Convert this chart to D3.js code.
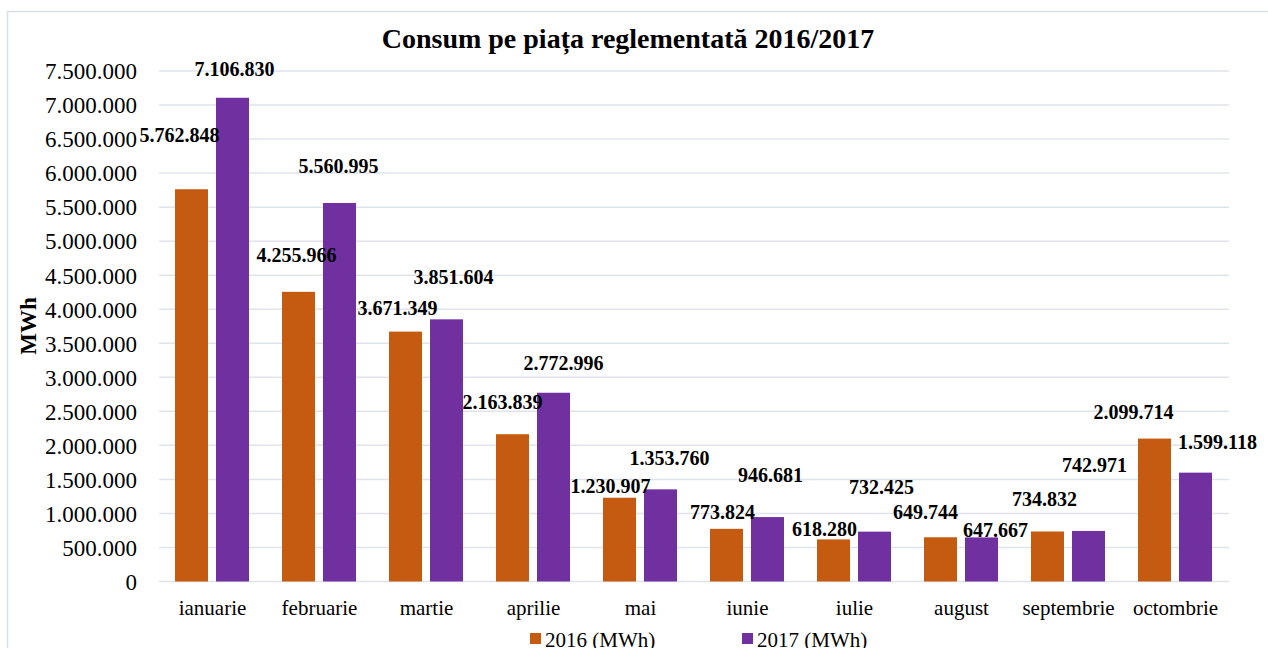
<!DOCTYPE html>
<html>
<head>
<meta charset="utf-8">
<script src="https://cdn.jsdelivr.net/npm/d3@7"></script>
<style>
    body { margin: 0; background: #fff; }
    svg text { font-family: "Liberation Serif", "Times New Roman", serif; fill: #000; }
</style>
</head>
<body>
<div id="chart"></div>
<script>
const months = ["ianuarie", "februarie", "martie", "aprilie", "mai", "iunie", "iulie", "august", "septembrie", "octombrie"];
const series = ["2016 (MWh)", "2017 (MWh)"];
const values2016 = [5762848, 4255966, 3671349, 2163839, 1230907, 773824, 618280, 649744, 734832, 2099714];
const values2017 = [7106830, 5560995, 3851604, 2772996, 1353760, 946681, 732425, 647667, 742971, 1599118];
const yTicks = d3.range(0, 7500001, 500000);

// label nudges (px) relative to top centre of each bar, as Excel left them
const nudge2016 = [[-12, -54], [-2, -37], [-8, -24], [-10, -32], [-9, -12], [-4, -17], [-9, -10], [-15, -25], [-3, -32], [-21, -27]];
const nudge2017 = [[2, -29], [-1, -37], [7, -42], [10, -30], [9, -31], [3, -42], [7, -45], [14, -7], [6, -66], [22, -31]];

const COLORS = ["#C55A11", "#7030A0"];
const GRID = "#dfe3ea";
const WIDTH = 1268, HEIGHT = 648;
const margin = {top: 71, right: 39, bottom: 66, left: 159};

const ro = d3.formatLocale({decimal: ",", thousands: ".", grouping: [3], currency: ["", ""]});
const fmt = ro.format(",d");

const svg = d3.select("#chart")
    .append("svg")
    .attr("width", WIDTH)
    .attr("height", HEIGHT);

// outer frame
svg.append("path")
    .attr("d", `M7.5,${HEIGHT} V11.5 H${WIDTH}`)
    .attr("fill", "none")
    .attr("stroke", "#d9dee6")
    .attr("stroke-width", 1.5);

const x0 = d3.scaleBand()
    .domain(months)
    .range([margin.left, WIDTH - margin.right])
    .padding(0);

const x1 = d3.scaleBand()
    .domain(series)
    .range([16, 90])
    .paddingInner(8 / 41);

const y = d3.scaleLinear()
    .domain([0, 7500000])
    .range([HEIGHT - margin.bottom - 0.5, margin.top]);

// ---------------- grid + y axis ----------------
svg.append("g")
    .selectAll("line")
    .data(yTicks)
    .enter()
    .append("line")
    .attr("x1", margin.left)
    .attr("x2", WIDTH - margin.right)
    .attr("y1", d => y(d))
    .attr("y2", d => y(d))
    .attr("stroke", GRID)
    .attr("stroke-width", 1.5);

const yAxis = svg.append("g")
    .attr("transform", `translate(${margin.left - 22},0)`)
    .call(d3.axisLeft(y).tickValues(yTicks).tickFormat(fmt).tickSize(0).tickPadding(0));
yAxis.select(".domain").remove();
yAxis.selectAll("text")
    .style("font-size", "23px")
    .attr("dy", "0.34em");

// ---------------- bars ----------------
const rows = months.map((m, i) => ({
    month: m,
    vals: [
        {key: series[0], value: values2016[i], nudge: nudge2016[i], c: 0},
        {key: series[1], value: values2017[i], nudge: nudge2017[i], c: 1}
    ]
}));

const groups = svg.append("g")
    .selectAll("g")
    .data(rows)
    .enter()
    .append("g")
    .attr("transform", d => `translate(${x0(d.month)},0)`);

groups.selectAll("rect")
    .data(d => d.vals)
    .enter()
    .append("rect")
    .attr("x", d => x1(d.key))
    .attr("width", x1.bandwidth())
    .attr("y", d => y(d.value))
    .attr("height", d => y(0) - y(d.value))
    .attr("fill", d => COLORS[d.c]);

groups.selectAll("text")
    .data(d => d.vals)
    .enter()
    .append("text")
    .attr("x", d => x1(d.key) + x1.bandwidth() / 2 + d.nudge[0])
    .attr("y", d => y(d.value) + d.nudge[1])
    .attr("dy", "0.35em")
    .attr("text-anchor", "middle")
    .style("font-size", "20px")
    .style("font-weight", "bold")
    .text(d => fmt(d.value));

// ---------------- x axis labels ----------------
svg.append("g")
    .selectAll("text")
    .data(months)
    .enter()
    .append("text")
    .attr("x", d => x0(d) + x0.bandwidth() / 2)
    .attr("y", 615)
    .attr("text-anchor", "middle")
    .style("font-size", "21px")
    .text(d => d);

// ---------------- titles ----------------
svg.append("text")
    .attr("x", 628)
    .attr("y", 48)
    .attr("text-anchor", "middle")
    .style("font-size", "28px")
    .style("font-weight", "bold")
    .text("Consum pe piața reglementată 2016/2017");

svg.append("text")
    .attr("transform", "translate(36,326) rotate(-90)")
    .attr("text-anchor", "middle")
    .style("font-size", "23px")
    .style("font-weight", "bold")
    .text("MWh");

// ---------------- legend ----------------
const legendX = [530, 742];
const legend = svg.append("g")
    .selectAll("g")
    .data(series)
    .enter()
    .append("g")
    .attr("transform", (d, i) => `translate(${legendX[i]},633)`);

legend.append("rect")
    .attr("width", 11)
    .attr("height", 11)
    .attr("fill", (d, i) => COLORS[i]);

legend.append("text")
    .attr("x", 15)
    .attr("y", 14)
    .style("font-size", "21px")
    .text(d => d);
</script>
</body>
</html>
